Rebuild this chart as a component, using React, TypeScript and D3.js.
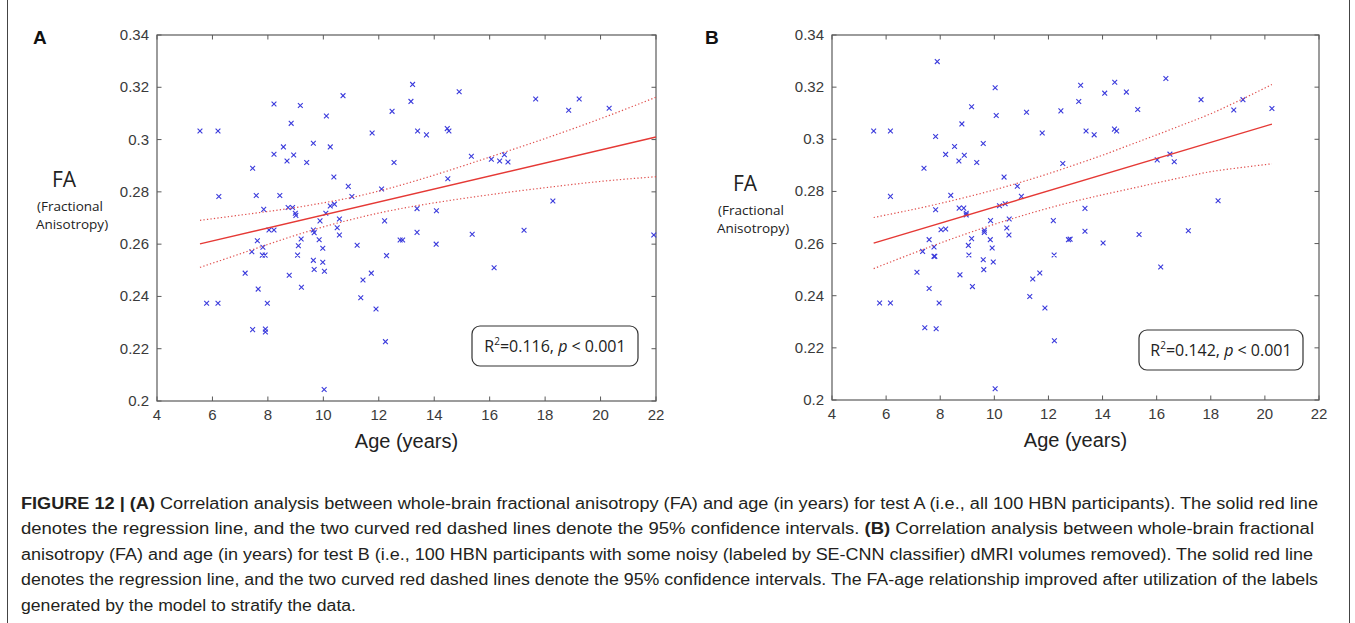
import React from 'react';
import * as d3 from 'd3';

const xTicks = [4, 6, 8, 10, 12, 14, 16, 18, 20, 22];
const yTicks = [0.2, 0.22, 0.24, 0.26, 0.28, 0.3, 0.32, 0.34];
const yTickLabels = ['0.2', '0.22', '0.24', '0.26', '0.28', '0.3', '0.32', '0.34'];

const pointsA: [number, number][] = [
  [5.55, 0.3033], [6.2, 0.3033], [6.23, 0.2782], [7.45, 0.289], [7.58, 0.2786], [7.85, 0.2733],
  [8.22, 0.3136], [8.22, 0.2944], [8.43, 0.2786], [8.56, 0.2972], [8.69, 0.2918], [8.84, 0.3062],
  [8.93, 0.2941], [8.73, 0.274], [8.89, 0.274], [8.99, 0.2718], [9.01, 0.271], [9.17, 0.313],
  [9.4, 0.2912], [9.64, 0.2986], [10.11, 0.309], [10.25, 0.2972], [10.38, 0.2857], [10.25, 0.2746],
  [10.4, 0.2753], [10.09, 0.2718], [10.71, 0.3168], [10.9, 0.2821], [11.03, 0.2782], [11.76, 0.3025],
  [12.1, 0.2811], [12.48, 0.3108], [12.55, 0.2912], [13.16, 0.3146], [13.22, 0.3211], [13.4, 0.3033],
  [13.38, 0.2736], [13.72, 0.3018], [14.47, 0.3042], [14.53, 0.3033], [14.9, 0.3183], [15.34, 0.2936],
  [16.06, 0.2925], [16.36, 0.2918], [16.53, 0.2942], [16.66, 0.2914], [14.49, 0.285], [14.08, 0.2728],
  [17.66, 0.3155], [18.85, 0.3112], [19.23, 0.3155], [20.31, 0.312], [18.28, 0.2765], [13.38, 0.2645],
  [14.07, 0.26], [15.37, 0.2638], [17.24, 0.2653], [16.16, 0.251], [21.92, 0.2635], [9.88, 0.2689],
  [10.58, 0.2696], [10.5, 0.2663], [10.58, 0.2635], [8.04, 0.2654], [8.22, 0.2654], [7.62, 0.2613],
  [7.82, 0.2588], [7.42, 0.2571], [7.8, 0.2558], [7.9, 0.2558], [7.18, 0.2489], [7.65, 0.2428],
  [7.98, 0.2374], [5.79, 0.2374], [6.2, 0.2374], [7.45, 0.2273], [7.91, 0.2275], [7.91, 0.2264],
  [9.1, 0.2594], [9.2, 0.262], [9.07, 0.2558], [8.77, 0.2481], [9.21, 0.2435], [9.64, 0.2654],
  [9.67, 0.2644], [9.85, 0.2617], [9.98, 0.2584], [9.64, 0.2538], [9.98, 0.2531], [9.67, 0.2503],
  [10.04, 0.2496], [10.03, 0.2044], [11.22, 0.2596], [11.43, 0.2463], [11.73, 0.2489], [11.35, 0.2395],
  [11.9, 0.2352], [12.24, 0.2227], [12.21, 0.2689], [12.28, 0.2556], [12.77, 0.2616], [12.86, 0.2616],
];

const pointsB: [number, number][] = [
  [5.54, 0.3032], [6.16, 0.3032], [6.16, 0.2781], [7.89, 0.3298], [7.83, 0.3011], [7.4, 0.2889],
  [8.2, 0.2942], [8.53, 0.2972], [8.69, 0.2917], [8.89, 0.2939], [8.8, 0.3059], [9.16, 0.3125],
  [9.35, 0.2911], [9.59, 0.2984], [10.03, 0.3198], [10.07, 0.3091], [10.36, 0.2855], [10.85, 0.282],
  [11.0, 0.2781], [10.19, 0.2745], [10.4, 0.2753], [11.19, 0.3104], [11.77, 0.3024], [12.46, 0.3109],
  [12.53, 0.2907], [8.39, 0.2785], [7.83, 0.273], [8.7, 0.2736], [8.87, 0.2736], [8.96, 0.2716],
  [8.96, 0.271], [9.86, 0.2688], [10.55, 0.2694], [10.46, 0.266], [10.54, 0.2633], [9.63, 0.2651],
  [9.63, 0.2643], [8.03, 0.2653], [8.2, 0.2656], [7.59, 0.2615], [7.77, 0.2587], [7.35, 0.257],
  [7.77, 0.2551], [7.8, 0.2551], [9.16, 0.2619], [9.04, 0.2593], [9.85, 0.2615], [9.92, 0.2583],
  [9.06, 0.2556], [9.59, 0.2538], [9.96, 0.2529], [9.61, 0.25], [7.14, 0.249], [8.73, 0.248],
  [9.19, 0.2435], [7.59, 0.2428], [7.96, 0.2372], [5.76, 0.2372], [6.16, 0.2372], [7.43, 0.2277],
  [7.85, 0.2273], [10.03, 0.2043], [12.18, 0.2688], [12.21, 0.2556], [11.42, 0.2464], [11.68, 0.2487],
  [11.31, 0.2397], [11.87, 0.2353], [12.22, 0.2227], [12.74, 0.2615], [12.8, 0.2617], [13.19, 0.3207],
  [13.12, 0.3145], [14.45, 0.3219], [14.08, 0.3177], [14.88, 0.3181], [15.3, 0.3114], [16.34, 0.3233],
  [17.64, 0.3152], [18.85, 0.3112], [19.19, 0.3152], [20.26, 0.3118], [13.39, 0.3032], [13.69, 0.3017],
  [14.44, 0.3039], [14.52, 0.3032], [16.02, 0.2921], [16.49, 0.2943], [16.65, 0.2914], [13.35, 0.2735],
  [18.27, 0.2764], [13.35, 0.2647], [14.02, 0.2602], [15.35, 0.2635], [17.17, 0.2649], [16.15, 0.251],
];

const regXA = [5.55, 22];
const regYA = [0.2601, 0.301];
const ciXA = [5.55, 7, 8, 9, 10, 11, 12, 13, 14, 15, 16, 18, 20, 22];
const ciUpperA = [0.2691, 0.2711, 0.2725, 0.274, 0.2758, 0.2778, 0.2803, 0.2832, 0.2864, 0.2898, 0.2933, 0.3004, 0.308, 0.3162];
const ciLowerA = [0.2511, 0.2563, 0.2599, 0.2634, 0.2666, 0.2694, 0.2719, 0.274, 0.2758, 0.2774, 0.2789, 0.2816, 0.284, 0.2858];

const regXB = [5.54, 20.26];
const regYB = [0.2602, 0.3058];
const ciXB = [5.54, 7, 8, 9, 10, 11, 12, 13, 14, 15, 16, 17, 18, 19, 20.26];
const ciUpperB = [0.27, 0.2731, 0.2754, 0.2779, 0.2806, 0.2836, 0.2868, 0.2903, 0.2939, 0.2978, 0.3017, 0.3057, 0.3098, 0.3146, 0.321];
const ciLowerB = [0.2504, 0.2563, 0.2602, 0.2639, 0.2674, 0.2706, 0.2736, 0.2763, 0.2787, 0.281, 0.2833, 0.2855, 0.2876, 0.289, 0.2906];

const captionLines = [
  { parts: [{ t: 'FIGURE 12 | (A)', b: true }, { t: ' Correlation analysis between whole-brain fractional anisotropy (FA) and age (in years) for test A (i.e., all 100 HBN participants). The solid red line', b: false }], w: 1297 },
  { parts: [{ t: 'denotes the regression line, and the two curved red dashed lines denote the 95% confidence intervals. ', b: false }, { t: '(B)', b: true }, { t: ' Correlation analysis between whole-brain fractional', b: false }], w: 1293 },
  { parts: [{ t: 'anisotropy (FA) and age (in years) for test B (i.e., 100 HBN participants with some noisy (labeled by SE-CNN classifier) dMRI volumes removed). The solid red line', b: false }], w: 1292 },
  { parts: [{ t: 'denotes the regression line, and the two curved red dashed lines denote the 95% confidence intervals. The FA-age relationship improved after utilization of the labels', b: false }], w: 1297 },
  { parts: [{ t: 'generated by the model to stratify the data.', b: false }], w: 335 },
];

const AX = '#5a5a5a';
const FONT = '"Liberation Sans", Arial, Helvetica, sans-serif';
const FA_FONT = '"Open Sans", "Noto Sans", "Liberation Sans", sans-serif';

type PanelProps = {
  x0: number; x1: number; y0: number; y1: number;
  points: [number, number][];
  regX: number[]; regY: number[];
  ciX: number[]; ciU: number[]; ciL: number[];
  r2: string;
  box: { x: number; y: number; w: number; h: number };
  letter: string; letterX: number;
  faX: number; faY: number;
};

function Panel(p: PanelProps) {
  const xs = d3.scaleLinear().domain([4, 22]).range([p.x0, p.x1]);
  const ys = d3.scaleLinear().domain([0.2, 0.34]).range([p.y1, p.y0]);
  const line = d3.line<[number, number]>().x(d => xs(d[0])).y(d => ys(d[1])).curve(d3.curveMonotoneX);
  const up = line(p.ciX.map((x, i) => [x, p.ciU[i]] as [number, number])) || '';
  const lo = line(p.ciX.map((x, i) => [x, p.ciL[i]] as [number, number])) || '';
  const reg = line(p.regX.map((x, i) => [x, p.regY[i]] as [number, number])) || '';
  const tk = 4.5;
  const m = 2.4;
  return (
    <g>
      <text x={p.letterX} y={44} fontFamily={FONT} fontWeight="bold" fontSize={19} fill="#111">{p.letter}</text>
      <text x={p.faX} y={p.faY} textAnchor="middle" fontFamily={FA_FONT} fontSize={21} fill="#222">FA</text>
      <text x={p.faX + 6} y={p.faY + 24} textAnchor="middle" fontFamily={FA_FONT} fontSize={13.5} fill="#222">(Fractional</text>
      <text x={p.faX + 8} y={p.faY + 42} textAnchor="middle" fontFamily={FA_FONT} fontSize={13.5} fill="#222">Anisotropy)</text>
      <rect x={p.x0} y={p.y0} width={p.x1 - p.x0} height={p.y1 - p.y0} fill="none" stroke={AX} strokeWidth={1.2} />
      {xTicks.map(t => (
        <g key={'x' + t}>
          <line x1={xs(t)} x2={xs(t)} y1={p.y1} y2={p.y1 - tk} stroke={AX} />
          <line x1={xs(t)} x2={xs(t)} y1={p.y0} y2={p.y0 + tk} stroke={AX} />
          <text x={xs(t)} y={p.y1 + 19} textAnchor="middle" fontFamily={FONT} fontSize={15} fill="#3a3a3a">{t}</text>
        </g>
      ))}
      {yTicks.map((t, i) => (
        <g key={'y' + t}>
          <line x1={p.x0} x2={p.x0 + tk} y1={ys(t)} y2={ys(t)} stroke={AX} />
          <line x1={p.x1} x2={p.x1 - tk} y1={ys(t)} y2={ys(t)} stroke={AX} />
          <text x={p.x0 - 8} y={ys(t) + 5} textAnchor="end" fontFamily={FONT} fontSize={15} fill="#3a3a3a">{yTickLabels[i]}</text>
        </g>
      ))}
      <text x={(p.x0 + p.x1) / 2} y={p.y1 + 47} textAnchor="middle" fontFamily={FONT} fontSize={20} fill="#222">Age (years)</text>
      {p.points.map((d, i) => {
        const cx = xs(d[0]);
        const cy = ys(d[1]);
        return (
          <path key={i} d={`M${cx - m},${cy - m}L${cx + m},${cy + m}M${cx - m},${cy + m}L${cx + m},${cy - m}`} stroke="#3b3bdc" strokeWidth={1.1} fill="none" />
        );
      })}
      <path d={up} fill="none" stroke="#e0504e" strokeWidth={1.2} strokeDasharray="1.3,2.2" />
      <path d={lo} fill="none" stroke="#e0504e" strokeWidth={1.2} strokeDasharray="1.3,2.2" />
      <path d={reg} fill="none" stroke="#e53935" strokeWidth={1.4} />
      <rect x={p.box.x} y={p.box.y} width={p.box.w} height={p.box.h} rx={8} ry={8} fill="#fff" stroke="#333" strokeWidth={1.2} />
      <text x={p.box.x + p.box.w / 2} y={p.box.y + p.box.h / 2 + 6} textAnchor="middle" fontFamily={FA_FONT} fontSize={16} fill="#222">
        <tspan>R</tspan><tspan fontSize={10} dy={-7}>2</tspan><tspan dy={7}>{'=' + p.r2 + ', '}</tspan><tspan fontStyle="italic">p</tspan><tspan>{' < 0.001'}</tspan>
      </text>
    </g>
  );
}

export default function App() {
  return (
    <svg width={1355} height={623} style={{ position: 'absolute', left: 0, top: 0, background: '#fff' }}>
      <rect x={0} y={0} width={1355} height={623} fill="#fff" />
      <line x1={7.5} x2={7.5} y1={0} y2={623} stroke="#444" strokeWidth={1} />
      <line x1={1349.5} x2={1349.5} y1={0} y2={623} stroke="#444" strokeWidth={1} />
      <Panel x0={157} x1={656} y0={35} y1={401} points={pointsA} regX={regXA} regY={regYA}
        ciX={ciXA} ciU={ciUpperA} ciL={ciLowerA} r2="0.116"
        box={{ x: 472, y: 326, w: 166, h: 40 }} letter="A" letterX={33} faX={64} faY={187} />
      <Panel x0={832} x1={1319} y0={35} y1={400} points={pointsB} regX={regXB} regY={regYB}
        ciX={ciXB} ciU={ciUpperB} ciL={ciLowerB} r2="0.142"
        box={{ x: 1139, y: 330, w: 164, h: 40 }} letter="B" letterX={705} faX={745} faY={191} />
      {captionLines.map((ln, i) => (
        <text key={i} x={21} y={508.5 + i * 25.5} fontFamily={FONT} fontSize={16} fill="#231f20"
          textLength={ln.w} lengthAdjust="spacingAndGlyphs">
          {ln.parts.map((pt, j) => (
            <tspan key={j} fontWeight={pt.b ? 'bold' : 'normal'}>{pt.t}</tspan>
          ))}
        </text>
      ))}
    </svg>
  );
}
